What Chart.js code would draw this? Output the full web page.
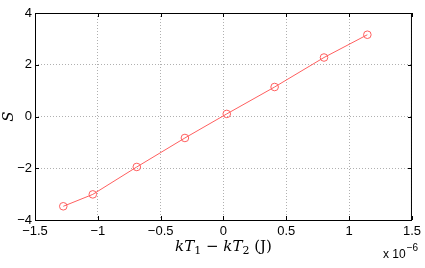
<!DOCTYPE html>
<html>
<head>
<meta charset="utf-8">
<script src="https://cdn.jsdelivr.net/npm/chart.js@4"></script>
<style>
  html, body { margin: 0; padding: 0; background: #fff; }
  canvas { display: block; }
</style>
</head>
<body>
<canvas id="chart" width="425" height="268"></canvas>
<script>
// temperature difference (J) vs S
const xVals = [-1.275e-6, -1.04e-6, -0.69e-6, -0.307e-6, 0.026e-6, 0.407e-6, 0.80e-6, 1.145e-6];
const sVals = [-3.47, -3.01, -1.95, -0.83, 0.10, 1.14, 2.28, 3.16];
const xTicks = [-1.5, -1, -0.5, 0, 0.5, 1, 1.5];
const yTicks = [-4, -2, 0, 2, 4];
const xScaleExp = -6;

const red = '#ff5f5f';
const sans = '"Liberation Sans", Arial, sans-serif';
const serif = '"DejaVu Serif", "Liberation Serif", serif';

const fmt = v => String(v).replace('-', '\u2212');

// box around plot + inward ticks, like matlab axes
const boxPlugin = {
  id: 'box',
  afterDraw(chart){
    const {ctx, chartArea: a, scales} = chart;
    ctx.save();
    ctx.strokeStyle = '#000';
    ctx.lineWidth = 1;
    ctx.strokeRect(a.left + 0.5, a.top + 0.5, a.right - a.left - 1, a.bottom - a.top);
    ctx.beginPath();
    xTicks.forEach(t => {
      const px = Math.round(scales.x.getPixelForValue(t * 1e-6)) + 0.5;
      ctx.moveTo(px, a.bottom); ctx.lineTo(px, a.bottom - 4);
      ctx.moveTo(px, a.top); ctx.lineTo(px, a.top + 4);
    });
    yTicks.forEach(t => {
      const py = Math.round(scales.y.getPixelForValue(t)) + 0.5;
      ctx.moveTo(a.left, py); ctx.lineTo(a.left + 4, py);
      ctx.moveTo(a.right, py); ctx.lineTo(a.right - 4, py);
    });
    ctx.stroke();

    // x label with italics and subscripts
    const parts = [
      ['k', 'italic 15px ' + serif, 0], ['T', 'italic 15px ' + serif, 0], ['1', '11px ' + serif, 3],
      [' \u2212 ', '15px ' + serif, 0],
      ['k', 'italic 15px ' + serif, 0], ['T', 'italic 15px ' + serif, 0], ['2', '11px ' + serif, 3],
      [' (J)', '15px ' + serif, 0]
    ];
    let w = 0;
    parts.forEach(p => { ctx.font = p[1]; w += ctx.measureText(p[0]).width; });
    let x = (a.left + a.right) / 2 - w / 2;
    ctx.fillStyle = '#000';
    ctx.textBaseline = 'alphabetic';
    parts.forEach(p => {
      ctx.font = p[1];
      ctx.fillText(p[0], x, 251 + p[2]);
      x += ctx.measureText(p[0]).width;
    });

    // exponent
    ctx.font = '12px ' + sans;
    ctx.fillText('x 10', 383, 258);
    const ew = ctx.measureText('x 10').width;
    ctx.font = '10px ' + sans;
    ctx.fillText(fmt(xScaleExp), 383 + ew + 1, 251);
    ctx.restore();
  }
};

new Chart(document.getElementById('chart'), {
  type: 'scatter',
  data: {
    datasets: [{
      data: xVals.map((x, i) => ({x, y: sVals[i]})),
      showLine: true,
      borderColor: red,
      borderWidth: 1,
      backgroundColor: 'rgba(0,0,0,0)',
      pointBorderColor: red,
      pointBackgroundColor: 'rgba(0,0,0,0)',
      pointRadius: 3.8,
      pointBorderWidth: 1
    }]
  },
  options: {
    responsive: false,
    devicePixelRatio: 1,
    animation: false,
    layout: { padding: { top: 13, right: 12, left: 0, bottom: 0 } },
    plugins: { legend: { display: false }, tooltip: { enabled: false } },
    scales: {
      x: {
        type: 'linear',
        min: -1.5e-6, max: 1.5e-6,
        afterBuildTicks: s => { s.ticks = xTicks.map(v => ({value: v * 1e-6})); },
        afterFit: s => { s.height = 48; },
        ticks: {
          color: '#000', font: { family: sans, size: 13 }, padding: 4, maxRotation: 0,
          callback: v => fmt(Math.round(v * 1e7) / 10)
        },
        grid: { color: '#b0b0b0', drawTicks: false },
        border: { display: false, dash: [1, 2] }
      },
      y: {
        type: 'linear',
        min: -4, max: 4,
        afterBuildTicks: s => { s.ticks = yTicks.map(v => ({value: v})); },
        afterFit: s => { s.width = 35; },
        ticks: { color: '#000', font: { family: sans, size: 13 }, padding: 3, callback: v => fmt(v) },
        grid: { color: '#b0b0b0', drawTicks: false },
        border: { display: false, dash: [1, 2] },
        title: { display: true, text: 'S', color: '#000', padding: 0, font: { family: serif, size: 15, style: 'italic' } }
      }
    }
  },
  plugins: [boxPlugin]
});
</script>
</body>
</html>
